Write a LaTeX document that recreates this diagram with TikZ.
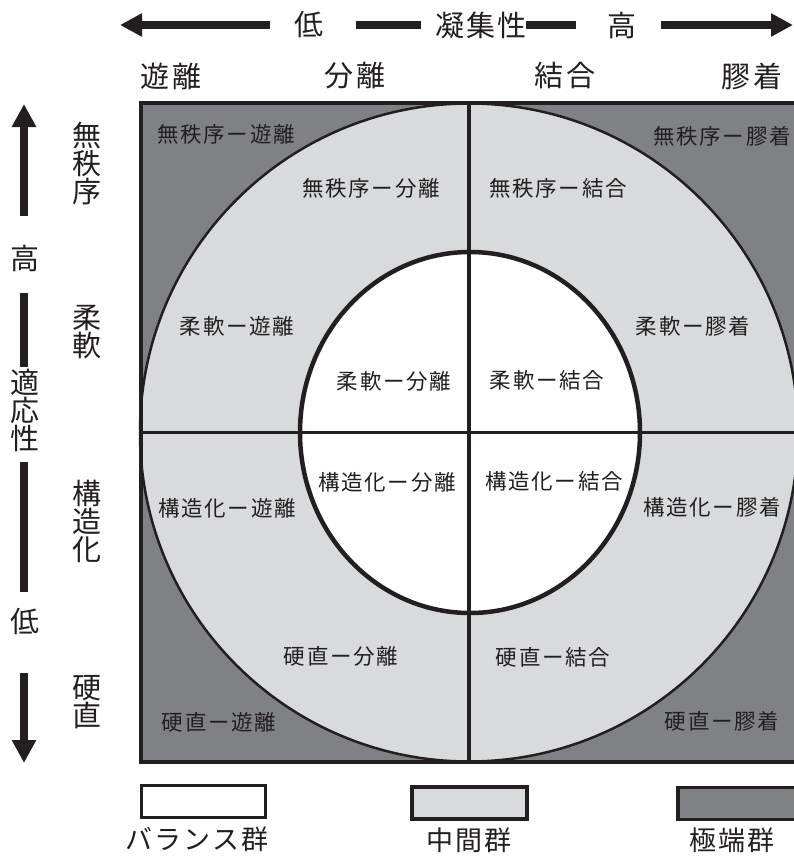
\documentclass[tikz,border=0pt]{standalone}
\usepackage{fontspec}
\setmainfont{Noto Sans CJK JP}
\newfontfamily\jp[LetterSpace=8]{Noto Sans CJK JP}
\usetikzlibrary{arrows.meta}
\definecolor{darkg}{HTML}{808184}
\definecolor{lightg}{HTML}{D9DADC}
\definecolor{ink}{HTML}{231F20}
\begin{document}
\begin{tikzpicture}[x=1pt,y=-1pt,
  cell/.style={font=\fontsize{21.5}{21.5}\selectfont\jp, text=ink, inner sep=0pt},
  axtext/.style={font=\fontsize{29}{29}\selectfont\jp, text=ink, inner sep=0pt},
  sidetext/.style={font=\fontsize{29}{28}\selectfont, text=ink, inner sep=0pt, align=center},
  axline/.style={draw=ink, line width=8.5pt},
  vbar/.style={draw=ink, line width=8.5pt},
  bigtip/.style={-{Triangle[length=23pt,width=23pt]}},
  toptip/.style={-{Triangle[length=22pt,width=22pt]}},
  border/.style={draw=ink, line width=3.5pt},
  legbox/.style={draw=ink, line width=3.5pt, minimum width=124pt, minimum height=32pt, inner sep=0pt},
  legtext/.style={font=\fontsize{27}{27}\selectfont\jp, text=ink, inner sep=0pt}]
\useasboundingbox (0,0) rectangle (793,859);
\fill[white] (0,0) rectangle (793,859);

% quadrant fills
\fill[darkg] (141,103) rectangle (797,762);
\fill[lightg] (469,432.5) circle[radius=329];
\fill[white] (470,432.5) ellipse[x radius=170, y radius=180.5];
\draw[ink, line width=2.5pt] (469,432.5) circle[radius=329];
\draw[ink, line width=4.5pt] (470,432.5) ellipse[x radius=170, y radius=180.5];
\draw[border] (469,103) -- (469,762);
\draw[border] (141,432.5) -- (797,432.5);
\draw[border] (141,103) rectangle (797,762);

% top axis
\node[axtext] (lo) at (309,25) {低};
\node[axtext] (coh) at (481,25) {凝集性};
\node[axtext] (hi) at (622,25) {高};
\coordinate (tipL) at (120,25);
\coordinate (l1e) at (270,25);
\coordinate (l2s) at (356,25);
\coordinate (l2e) at (421,25);
\coordinate (l3s) at (526,25);
\coordinate (l3e) at (576,25);
\coordinate (l4s) at (661,25);
\coordinate (tipR) at (793,25);
\draw[axline, toptip] (l1e) -- (tipL);
\draw[axline] (l2s) -- (l2e);
\draw[axline] (l3s) -- (l3e);
\draw[axline, toptip] (l4s) -- (tipR);

\node[axtext] (c1) at (171,76) {遊離};
\node[axtext] (c2) at (355,76) {分離};
\node[axtext] (c3) at (565,76) {結合};
\node[axtext] (c4) at (752,76) {膠着};

% left axis
\coordinate (upS) at (24,216);
\coordinate (upT) at (24,104);
\draw[vbar, bigtip] (upS) -- (upT);
\node[sidetext] (vhi) at (25,258) {高};
\coordinate (b1s) at (24,293);
\coordinate (b1e) at (24,367);
\draw[vbar] (b1s) -- (b1e);
\node[sidetext] (adapt) at (25,410) {適\\応\\性};
\coordinate (b2s) at (24,462);
\coordinate (b2e) at (24,592);
\draw[vbar] (b2s) -- (b2e);
\node[sidetext] (vlo) at (25,622) {低};
\coordinate (dnS) at (24,673);
\coordinate (dnT) at (24,763);
\draw[vbar, bigtip] (dnS) -- (dnT);

\node[sidetext] (r1) at (87,164) {無\\秩\\序};
\node[sidetext] (r2) at (87,332) {柔\\軟};
\node[sidetext] (r3) at (87,521) {構\\造\\化};
\node[sidetext] (r4) at (87,702) {硬\\直};

% cells
\node[cell] at (226,134) {無秩序ー遊離};
\node[cell] at (371,188) {無秩序ー分離};
\node[cell] at (558,188) {無秩序ー結合};
\node[cell] at (722,136) {無秩序ー膠着};
\node[cell] at (237,326) {柔軟ー遊離};
\node[cell] at (394,381) {柔軟ー分離};
\node[cell] at (547,380) {柔軟ー結合};
\node[cell] at (693,326) {柔軟ー膠着};
\node[cell] at (387,482) {構造化ー分離};
\node[cell] at (554,481) {構造化ー結合};
\node[cell] at (227,508) {構造化ー遊離};
\node[cell] at (712,507) {構造化ー膠着};
\node[cell] at (341,656) {硬直ー分離};
\node[cell] at (553,657) {硬直ー結合};
\node[cell] at (219,722) {硬直ー遊離};
\node[cell] at (722,721) {硬直ー膠着};

% legend
\node[legbox, fill=white] (lb1) at (203.5,801.5) {};
\node[legbox, fill=lightg, minimum width=115pt] (lb2) at (469.5,803) {};
\node[legbox, fill=darkg, minimum width=122pt] (lb3) at (739,803.5) {};
\node[legtext] (lt1) at (197,839) {バランス群};
\node[legtext] (lt2) at (469,840) {中間群};
\node[legtext] (lt3) at (732,840) {極端群};
\end{tikzpicture}
\end{document}
